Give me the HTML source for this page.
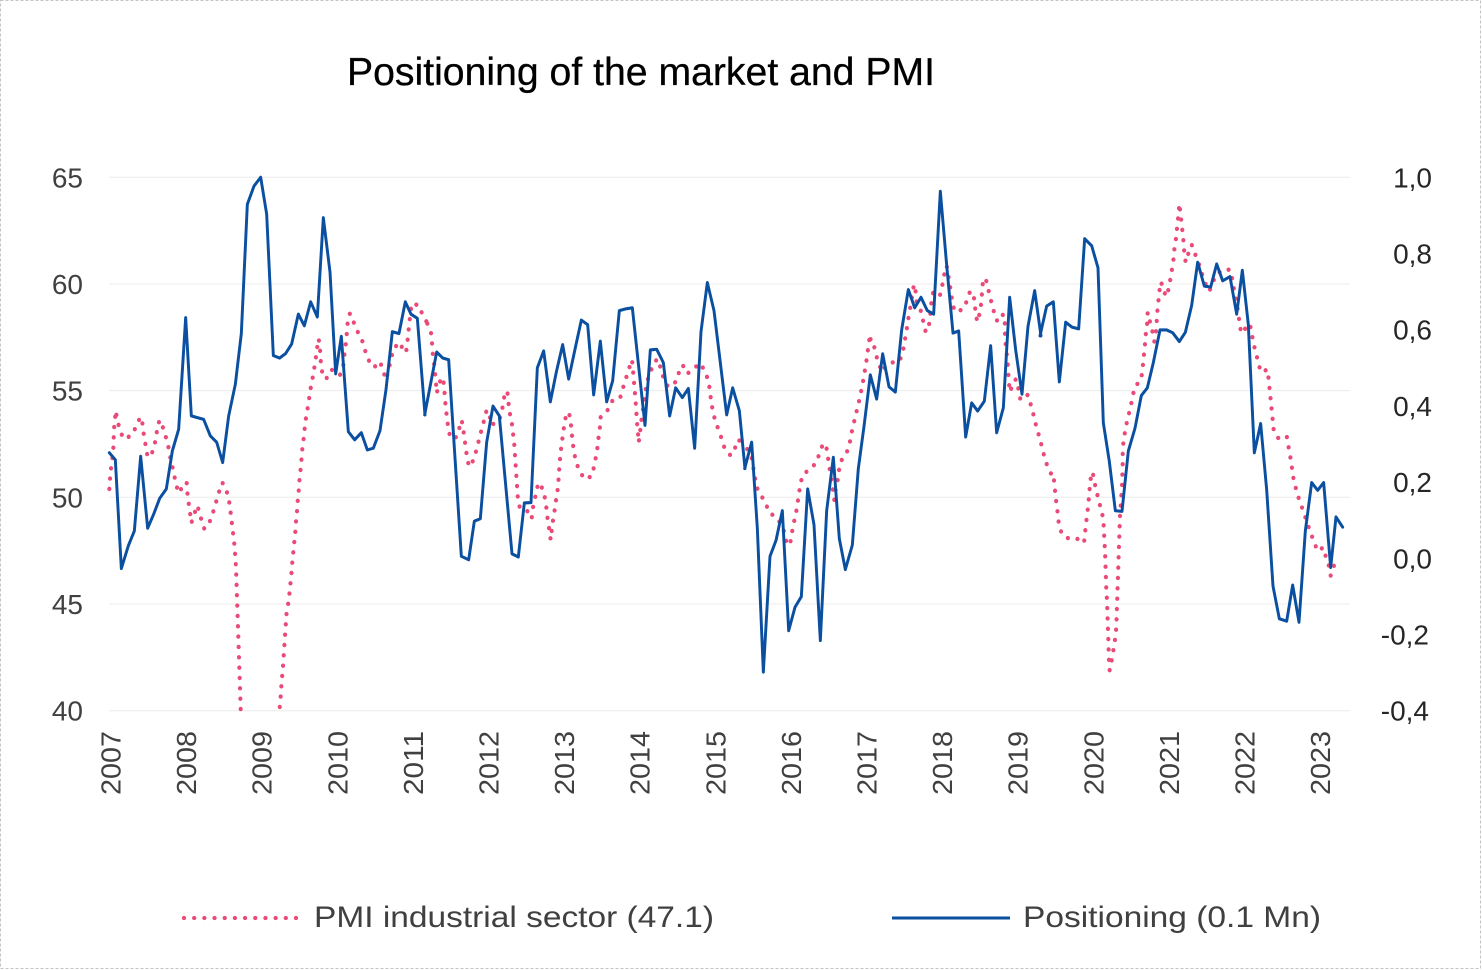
<!DOCTYPE html>
<html>
<head>
<meta charset="utf-8">
<style>
  html,body{margin:0;padding:0;background:#fff;}
  svg{display:block;}
  text{font-family:"Liberation Sans", Arial, sans-serif;}
</style>
</head>
<body>
<svg width="1482" height="970" viewBox="0 0 1482 970" xmlns="http://www.w3.org/2000/svg">
  <rect x="0" y="0" width="1482" height="970" fill="#fff"/>
  <rect x="0.5" y="0.5" width="1480" height="968" fill="none" stroke="#c4c4c4" stroke-width="1" stroke-dasharray="3 2"/>

  <!-- Title -->
  <text x="347" y="85" font-size="39" fill="#000" stroke="#000" stroke-width="0.3" textLength="588" lengthAdjust="spacingAndGlyphs">Positioning of the market and PMI</text>

  <!-- Gridlines -->
  <g stroke="#ececec" stroke-width="1">
    <line x1="109" y1="177.3" x2="1350" y2="177.3"/>
    <line x1="109" y1="284" x2="1350" y2="284"/>
    <line x1="109" y1="390.6" x2="1350" y2="390.6"/>
    <line x1="109" y1="497.3" x2="1350" y2="497.3"/>
    <line x1="109" y1="604" x2="1350" y2="604"/>
    <line x1="109" y1="710.7" x2="1350" y2="710.7"/>
  </g>

  <!-- Left axis labels -->
  <g font-size="28" fill="#404040" text-anchor="end">
    <text x="83" y="187.3">65</text>
    <text x="83" y="294">60</text>
    <text x="83" y="400.6">55</text>
    <text x="83" y="507.3">50</text>
    <text x="83" y="614">45</text>
    <text x="83" y="720.7">40</text>
  </g>

  <!-- Right axis labels -->
  <g font-size="28" fill="#262626" text-anchor="end">
    <text x="1432" y="187.3">1,0</text>
    <text x="1432" y="263.5">0,8</text>
    <text x="1432" y="339.7">0,6</text>
    <text x="1432" y="415.9">0,4</text>
    <text x="1432" y="492.1">0,2</text>
    <text x="1432" y="568.3">0,0</text>
    <text x="1429" y="644.5">-0,2</text>
    <text x="1429" y="720.7">-0,4</text>
  </g>

  <!-- Year labels -->
  <g font-size="28" fill="#404040">
    <text transform="translate(120.5,795) rotate(-90)" textLength="64" lengthAdjust="spacingAndGlyphs">2007</text>
    <text transform="translate(196.1,795) rotate(-90)" textLength="64" lengthAdjust="spacingAndGlyphs">2008</text>
    <text transform="translate(271.7,795) rotate(-90)" textLength="64" lengthAdjust="spacingAndGlyphs">2009</text>
    <text transform="translate(347.3,795) rotate(-90)" textLength="64" lengthAdjust="spacingAndGlyphs">2010</text>
    <text transform="translate(422.9,795) rotate(-90)" textLength="64" lengthAdjust="spacingAndGlyphs">2011</text>
    <text transform="translate(498.5,795) rotate(-90)" textLength="64" lengthAdjust="spacingAndGlyphs">2012</text>
    <text transform="translate(574.1,795) rotate(-90)" textLength="64" lengthAdjust="spacingAndGlyphs">2013</text>
    <text transform="translate(649.7,795) rotate(-90)" textLength="64" lengthAdjust="spacingAndGlyphs">2014</text>
    <text transform="translate(725.3,795) rotate(-90)" textLength="64" lengthAdjust="spacingAndGlyphs">2015</text>
    <text transform="translate(800.9,795) rotate(-90)" textLength="64" lengthAdjust="spacingAndGlyphs">2016</text>
    <text transform="translate(876.5,795) rotate(-90)" textLength="64" lengthAdjust="spacingAndGlyphs">2017</text>
    <text transform="translate(952.1,795) rotate(-90)" textLength="64" lengthAdjust="spacingAndGlyphs">2018</text>
    <text transform="translate(1027.7,795) rotate(-90)" textLength="64" lengthAdjust="spacingAndGlyphs">2019</text>
    <text transform="translate(1103.3,795) rotate(-90)" textLength="64" lengthAdjust="spacingAndGlyphs">2020</text>
    <text transform="translate(1178.9,795) rotate(-90)" textLength="64" lengthAdjust="spacingAndGlyphs">2021</text>
    <text transform="translate(1254.5,795) rotate(-90)" textLength="64" lengthAdjust="spacingAndGlyphs">2022</text>
    <text transform="translate(1330.1,795) rotate(-90)" textLength="64" lengthAdjust="spacingAndGlyphs">2023</text>
  </g>

  <defs>
    <clipPath id="plot">
      <rect x="100" y="150" width="1260" height="562"/>
    </clipPath>
  </defs>

  <!-- PMI series (pink dotted) -->
  <g clip-path="url(#plot)">
    <g fill="none" stroke="#EA4A77" stroke-width="12.6" stroke-linecap="round" stroke-linejoin="round" stroke-dasharray="0 29.5">
      <polyline transform="translate(100,170.28) scale(0.33333,0.3509)" points="28,908 30,880 33,850 37,822 40,793 41,765 42,737 45,710 47,685 52,713 60,740 70,765 93,757 108,732 120,705 126,705 128,733 133,762 138,790 143,818 158,802 165,776 170,748 175,720 182,712 191,740 200,768 207,796 212,825 219,852 225,880 232,908 238,920 250,893 260,890 262,918 266,948 270,975 274,1005 282,983 291,955 298,972 305,1000 313,1022 331,998 340,972 349,943 357,917 367,890 377,907 386,933 390,962 394,990 397,1018 401,1047 404,1075 406,1104 408,1132 409,1160 410,1190 411,1218 412,1247 413,1275 414,1303 415,1332 416,1360 417,1390 418,1418 419,1446 420,1475 421,1503 422,1532 425,1700 440,1900 480,1950 525,1750 538,1542 541,1512 543,1485 545,1456 548,1428 550,1400 552,1370 554,1342 556,1313 558,1285 560,1257 566,1228 569,1200 572,1172 575,1143 577,1115 580,1087 583,1058 586,1030 588,1001 591,972 593,944 596,916 598,887 601,860 604,830 606,802 610,773 613,745 616,717 621,689 626,660 630,632 635,605 641,577 645,548 650,520 653,493 656,480 660,510 662,540 665,567 670,592 680,592 695,568 707,580 720,583 730,555 733,527 737,498 740,470 742,442 746,415 750,408 761,433 773,460 787,487 795,513 805,540 822,562 840,545 850,573 858,597 866,568 873,538 880,510 898,490 912,515 918,520 922,492 925,463 928,435 935,380 957,385 968,413 983,437"/>
      <polyline transform="translate(420,170.28) scale(0.33333,0.3509)" points="22,437 33,463 36,492 38,520 42,548 45,577 48,605 50,635 55,618 64,590 70,598 73,625 75,653 78,683 82,711 85,740 93,765 110,760 118,735 125,712 130,740 134,768 138,796 142,825 148,845 163,822 170,793 178,765 185,738 193,710 200,683 208,695 215,727 226,718 237,715 245,690 250,662 255,632 262,630 265,658 268,687 275,715 278,743 282,771 284,799 286,827 288,855 290,884 292,912 294,941 300,963 320,968 335,993 338,965 345,935 350,908 357,890 370,912 376,940 380,968 383,996 388,1025 392,1053 398,1003 403,975 407,946 412,918 415,890 417,861 419,833 422,805 425,777 430,748 433,720 440,693 447,690 452,718 455,746 458,775 462,803 468,830 478,857 494,880 515,872 522,845 528,815 533,787 536,758 540,731 542,703 562,685 576,658 600,650 608,623 617,596 626,568 636,540 641,590 643,618 646,646 648,675 650,703 652,731 655,760 656,776 660,748 663,720 668,690 672,662 676,634 680,606 690,578 700,553 712,537 722,563 730,590 744,617 758,612 772,597 778,570 788,555 802,580 818,567 840,550 855,572 865,600 870,628 873,656 878,684 885,712 895,738 905,765 914,793 932,813 944,795 952,768 965,773"/>
      <polyline transform="translate(740,170.28) scale(0.33333,0.3509)" points="5,770 22,795 35,820 40,848 45,876 50,903 62,925 77,948 87,975 107,988 125,1010 135,1037 140,1065 150,1067 155,1038 160,1010 167,982 172,955 176,925 181,897 187,870 208,852 228,835 238,808 248,782 258,780 262,808 267,837 271,865 276,892 280,920 283,940 287,910 293,883 297,855 303,829 322,800 330,773 335,747 342,718 349,690 356,663 362,636 368,608 373,580 378,552 382,524 386,496 390,468 393,492 400,493 407,520 414,547 427,575 434,562 455,548 478,545 488,521 493,493 498,465 503,437 507,409 513,380 517,353 522,325 528,350 530,380 545,405 550,433 557,460 565,455 569,427 575,370 580,345 600,356 607,327 612,300 620,272 625,300 629,325 634,352 637,380 645,403 668,397 682,370 690,345 697,348 705,375 706,405 712,432 716,420 722,392 725,363 727,335 730,308 738,312 745,340 752,368 760,395 765,422 775,432 790,410 795,440 795,467 797,495 800,522 803,550 805,580 807,608 810,632 820,605 828,595 835,622 840,650 850,655 863,640 872,667 880,695 887,723 895,750 903,778 910,805 918,833 930,858 942,884"/>
      <polyline transform="translate(1040,170.28) scale(0.33333,0.3509)" points="42,884 45,912 48,940 52,968 55,997 60,1025 78,1048 108,1048 132,1062 135,1035 138,1007 142,978 145,950 148,921 150,893 155,862 158,860 163,888 170,915 176,943 185,970 190,998 192,1027 193,1055 195,1083 196,1112 197,1140 198,1168 199,1197 201,1225 202,1254 203,1282 204,1312 205,1340 206,1368 207,1397 209,1425 215,1397 218,1382 222,1355 227,1327 229,1298 230,1268 231,1240 232,1212 233,1183 234,1155 235,1126 236,1098 237,1070 238,1041 239,1013 240,985 242,957 244,928 246,898 247,870 248,842 248,813 249,785 253,757 258,729 265,701 272,673 278,645 284,617 303,598 307,572 310,543 313,514 316,486 318,458 322,432 323,405 330,432 338,462 343,488 348,460 350,432 352,403 355,375 358,347 362,318 370,333 377,360 384,345 390,316 395,288 400,260 402,231 407,203 410,175 413,147 416,120 418,95 421,120 425,152 428,180 431,208 433,237 437,262 445,237 455,212 465,238 475,262 485,292 495,320 508,345 515,328 528,297 543,288 555,290 568,282 577,310 582,340 587,368 593,395 597,423 600,450 610,465 620,440 630,440 635,463 640,491 647,519 655,547 662,575 683,568 686,597 689,625 692,653 695,682 698,710 701,740 714,763 740,757 745,785 750,812 755,840 758,868 765,896 772,923 782,950 792,978 802,1005 810,1030 822,1057 832,1085 850,1075 857,1100 867,1128 872,1155 878,1135 890,1110"/>
    </g>
  </g>

  <!-- Positioning series (blue solid) -->
  <g fill="none" stroke="#0A4FA0" stroke-width="8.8" stroke-linejoin="round" stroke-linecap="round">
    <polyline transform="translate(100,170.28) scale(0.33333,0.3509)" points="28,805 46,825 64,1135 85,1070 103,1028 122,815 143,1020 161,980 179,935 199,908 217,800 236,738 257,420 274,700 292,705 311,710 331,757 350,775 368,833 386,700 406,610 424,465 442,97 462,45 482,20 500,125 520,528 539,535 557,522 575,495 595,410 613,443 632,375 652,418 670,135 690,290 707,580 724,473 745,745 764,768 784,748 802,797 820,792 840,742 858,625 877,460 897,465 916,375 933,410 952,422 975,697"/>
    <polyline transform="translate(420,170.28) scale(0.33333,0.3509)" points="14,697 50,518 68,535 86,540 124,1100 146,1110 163,1000 181,993 200,775 219,672 238,700 276,1093 295,1102 313,948 333,947 352,563 371,515 391,660 409,575 428,497 446,595 465,510 484,427 503,440 521,640 541,487 560,660 578,600 598,400 617,395 637,392 675,727 691,512 710,510 730,548 749,700 767,620 787,648 805,622 824,792 843,460 862,320 882,400 920,697 938,620 958,685 975,850"/>
    <polyline transform="translate(740,170.28) scale(0.33333,0.3509)" points="14,850 35,775 52,1020 70,1430 90,1100 108,1055 127,970 146,1312 165,1245 184,1215 203,908 222,1010 241,1340 260,970 280,818 298,1050 316,1138 337,1068 355,850 372,730 391,583 410,652 428,523 447,617 466,632 485,455 505,340 524,392 543,362 562,400 581,410 601,60 620,270 639,464 656,458 677,760 695,663 713,686 733,658 752,500 770,748 790,677 809,362 827,512 846,638 864,445 884,343 903,472"/>
    <polyline transform="translate(1040,170.28) scale(0.33333,0.3509)" points="0,472 20,387 40,375 58,603 77,433 96,447 116,452 134,195 155,215 174,278 190,720 208,830 226,970 246,972 265,800 285,735 304,642 322,620 340,548 360,455 380,455 398,463 418,488 436,462 455,385 473,262 493,330 512,333 530,267 548,315 570,303 590,410 607,285 625,440 643,805 662,722 680,910 699,1185 718,1278 740,1285 758,1182 777,1288 796,1028 815,890 833,912 851,890 872,1132 888,988 908,1017"/>
  </g>

  <!-- Legend -->
  <line x1="184" y1="918" x2="296" y2="918" stroke="#EA4A77" stroke-width="4.3" stroke-linecap="round" stroke-dasharray="0 10.18"/>
  <text x="314" y="927" font-size="30" fill="#404040" textLength="400" lengthAdjust="spacingAndGlyphs">PMI industrial sector (47.1)</text>
  <line x1="892" y1="918" x2="1010" y2="918" stroke="#0A4FA0" stroke-width="3"/>
  <text x="1023" y="927" font-size="30" fill="#404040" textLength="298" lengthAdjust="spacingAndGlyphs">Positioning (0.1 Mn)</text>
</svg>
</body>
</html>
